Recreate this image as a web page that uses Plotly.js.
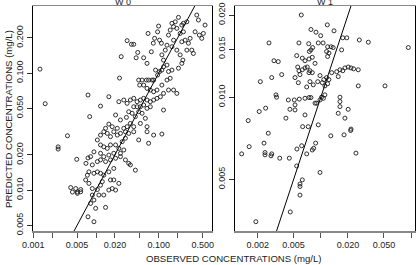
<!DOCTYPE html>
<html><head><meta charset="utf-8">
<script src="https://cdn.plot.ly/plotly-3.0.1.min.js"></script>
<style>html,body{margin:0;padding:0;background:#fff}#chart{width:416px;height:265px}</style>
</head><body><div id="chart"></div>
<script>
// W 0 panel: observed vs predicted (mg/L)
const w0Observed = [0.00128,0.00155,0.00745,0.00793,0.0118,0.0160,0.0237,0.0252,0.0313,0.0367,0.0399,0.0462,0.0436,0.0574,0.0650,0.0675,0.0761,0.0818,0.0858,0.0957,0.0993,0.103,0.110,0.112,0.119,0.127,0.135,0.143,0.152,0.162,0.172,0.183,0.194,0.206,0.219,0.233,0.247,0.263,0.280,0.297,0.316,0.336,0.356,0.379,0.403,0.443,0.484,0.513,0.546,0.428,0.280,0.247,0.233,0.172,0.162,0.194,0.219,0.242,0.233,0.206,0.162,0.152,0.143,0.135,0.119,0.112,0.103,0.0957,0.0889,0.0828,0.0780,0.0689,0.0634,0.0542,0.0479,0.0497,0.0574,0.0650,0.0733,0.0828,0.0936,0.112,0.135,0.143,0.172,0.194,0.119,0.106,0.0936,0.0828,0.0733,0.0650,0.0574,0.0509,0.0452,0.0399,0.0353,0.0313,0.0277,0.0231,0.0399,0.0452,0.0509,0.0574,0.0650,0.0733,0.0479,0.0542,0.0376,0.0332,0.0424,0.0305,0.0245,0.0205,0.0353,0.0399,0.0509,0.0611,0.119,0.0650,0.0313,0.0277,0.0218,0.0181,0.0160,0.0142,
0.00351,0.00249,0.00249,0.00493,0.00395,0.00421,0.00505,0.0057,0.00692,0.00745,0.0082,0.00927,0.0105,0.0118,0.0133,0.0151,0.0170,0.0192,0.0218,0.0245,0.0294,0.0332,0.0399,0.0479,0.0650,0.0689,0.0828,0.112,0.0118,0.0133,0.0151,0.0170,0.0205,0.0231,0.0261,0.0294,0.0277,0.0245,0.0192,0.0160,0.0133,0.0118,0.0105,0.0118,0.0142,0.0170,0.0205,0.0245,0.0294,0.0332,0.0353,0.0424,0.00873,0.00771,0.00927,0.0105,0.0118,0.0133,0.0160,0.0192,0.00728,0.00684,0.00771,0.00873,0.0105,0.0118,0.0126,0.0170,0.0192,0.0205,0.0181,0.0160,0.0133,0.0111,0.00873,0.00927,0.0082,0.00986,0.0142,0.00745,0.00927,0.00505,0.0057,0.00475,0.0231];
const w0Predicted = [0.108,0.0547,0.0649,0.0424,0.0522,0.0627,0.0906,0.138,0.189,0.176,0.176,0.150,0.135,0.135,0.121,0.218,0.152,0.180,0.198,0.225,0.252,0.191,0.180,0.143,0.129,0.157,0.173,0.211,0.233,0.266,0.249,0.274,0.241,0.299,0.218,0.257,0.225,0.191,0.157,0.180,0.198,0.157,0.147,0.225,0.313,0.211,0.198,0.218,0.257,0.284,0.274,0.266,0.185,0.191,0.168,0.157,0.143,0.129,0.121,0.110,0.106,0.0902,0.103,0.117,0.113,0.106,0.103,0.0962,0.106,0.0871,0.0871,0.0871,0.0871,0.0871,0.0871,0.0789,0.0789,0.0740,0.0716,0.0692,0.0716,0.0789,0.0871,0.0716,0.0716,0.0670,0.0670,0.0627,0.0608,0.0588,0.0569,0.0588,0.0608,0.0588,0.0569,0.0608,0.0588,0.0551,0.0588,0.0569,0.0515,0.0515,0.0515,0.0533,0.0499,0.0515,0.0467,0.0453,0.0453,0.0467,0.0424,0.0418,0.0397,0.0438,0.0371,0.0348,0.0371,0.0410,0.0483,0.0348,0.0348,0.0337,0.0337,0.0348,0.0366,0.0337,
0.0291,0.0234,0.0224,0.0183,0.0105,0.00962,0.00962,0.0101,0.0169,0.0188,0.0193,0.0212,0.0268,0.0295,0.0315,0.0305,0.0286,0.0315,0.0295,0.0305,0.0315,0.0305,0.0315,0.0268,0.0315,0.0251,0.0295,0.0301,0.0243,0.0234,0.0227,0.0243,0.0243,0.0227,0.0259,0.0277,0.0220,0.0206,0.0206,0.0199,0.0193,0.0206,0.0175,0.0181,0.0175,0.0181,0.0187,0.0193,0.0181,0.0169,0.0164,0.0148,0.0164,0.0143,0.0139,0.0143,0.0139,0.0134,0.0143,0.0153,0.0134,0.0122,0.0114,0.0103,0.0101,0.0110,0.0118,0.0122,0.0122,0.0100,0.0103,0.0100,0.00906,0.00906,0.00906,0.00821,0.00769,0.00698,0.00711,0.00591,0.00536,0.00937,0.00967,0.0103,0.0114];

// W 1 panel
const w1Observed = [0.00608,0.00267,0.00573,0.00778,0.00885,0.00997,0.0118,0.0140,0.00735,0.00812,0.00778,0.00747,0.00938,0.0106,0.0119,0.0130,0.0137,0.0116,0.0123,0.0119,0.0175,0.0194,0.0170,0.0267,0.0336,0.0931,0.00303,0.00338,0.00541,0.00624,0.00668,0.00740,0.00805,0.00863,0.00555,0.00624,0.00573,0.00668,0.00708,0.00759,0.00740,0.00805,0.00369,0.00286,0.00214,0.00518,0.00588,0.00564,0.00759,0.00698,0.00826,0.00980,0.0108,0.0116,0.0123,0.0119,0.0111,0.0104,0.00925,0.0132,0.0150,0.0163,0.0175,0.0185,0.0201,0.0216,0.0231,0.0156,0.0260,0.0260,0.0514,0.00319,0.00324,0.00208,0.00245,0.00157,0.00437,0.00509,0.00578,0.00668,0.00740,0.00778,0.00518,0.00518,0.00455,0.00863,0.00900,0.00980,0.0102,0.0111,0.0107,0.00668,0.00411,0.00630,0.00726,0.00938,0.0163,0.0163,0.0163,0.0201,0.0156,0.0185,0.0216,
0.00133,0.00161,0.00235,0.00262,0.00241,0.00241,0.00286,0.00281,0.00351,0.00448,0.00544,0.00614,0.00698,0.00805,0.00834,0.00877,0.00541,0.00624,0.00588,0.00588,0.00588,0.00459,0.00191,0.00980,0.0129,0.0181,0.0214,0.0245];
const w1Predicted = [0.0200,0.0158,0.0158,0.0177,0.0173,0.0168,0.0184,0.0175,0.0157,0.0152,0.0149,0.0147,0.0158,0.0158,0.0153,0.0153,0.0152,0.0147,0.0145,0.0141,0.0165,0.0165,0.0149,0.0162,0.0159,0.0152,0.0136,0.0135,0.0142,0.0139,0.0136,0.0138,0.0140,0.0133,0.0129,0.0126,0.0125,0.0128,0.0129,0.0125,0.0123,0.0123,0.0121,0.0118,0.0114,0.0118,0.0121,0.0113,0.0114,0.0109,0.0111,0.0120,0.0116,0.0118,0.0116,0.0112,0.0110,0.0113,0.0114,0.0123,0.0124,0.0126,0.0125,0.0128,0.0129,0.0128,0.0127,0.0119,0.0126,0.0110,0.0110,0.0102,0.0100,0.00886,0.00912,0.00821,0.00977,0.00977,0.00984,0.00991,0.00997,0.00997,0.00937,0.00898,0.00903,0.00951,0.00951,0.00977,0.0100,0.0102,0.00991,0.00861,0.00838,0.00780,0.00780,0.00792,0.0100,0.00964,0.00924,0.00903,0.00873,0.00838,0.00764,
0.00620,0.00659,0.00679,0.00738,0.00627,0.00615,0.00620,0.00610,0.00598,0.00598,0.00646,0.00664,0.00620,0.00641,0.00650,0.00679,0.00560,0.00498,0.00481,0.00471,0.00438,0.00380,0.00350,0.00530,0.00722,0.00728,0.00755,0.00624];

// identity line end points
const identity = [0.0001, 10];

// tick values / labels
const w0XTicks = [0.001,0.002,0.005,0.01,0.02,0.05,0.1,0.2,0.5];
const w0XLabels = ["0.001","","0.005","","0.020","","0.100","","0.500"];
const w0YTicks = [0.005,0.01,0.02,0.05,0.1,0.2];
const w0YLabels = ["0.005","0.010","0.020","0.050","0.100","0.200"];
const w1XTicks = [0.002,0.005,0.01,0.02,0.05,0.1];
const w1XLabels = ["0.002","0.005","","0.020","0.050",""];
const w1YTicks = [0.005,0.01,0.015,0.02];
const w1YLabels = ["0.005","0.010","0.015","0.020"];

const FONT = "Liberation Sans, Arial, Helvetica, sans-serif";
const mk = {symbol:'circle-open', size:4, color:'#1a1a1a', line:{width:0.9, color:'#1a1a1a'}};

const traces = [
  {x:w0Observed, y:w0Predicted, mode:'markers', marker:mk, xaxis:'x', yaxis:'y', hoverinfo:'skip'},
  {x:identity, y:identity, mode:'lines', line:{color:'#000', width:1}, xaxis:'x', yaxis:'y', hoverinfo:'skip'},
  {x:w1Observed, y:w1Predicted, mode:'markers', marker:mk, xaxis:'x2', yaxis:'y2', hoverinfo:'skip'},
  {x:identity, y:identity, mode:'lines', line:{color:'#000', width:1}, xaxis:'x2', yaxis:'y2', hoverinfo:'skip'}
];

const W = 416, H = 265;
const px = v => v / W, py = v => 1 - v / H;
const tickFont = {family:FONT, size:9, color:'#222'};
function xAx(dom, rng, tv, tt) {
  return {domain:dom, type:'log', range:rng, tickmode:'array', tickvals:tv, ticktext:tt,
    ticks:'outside', ticklen:5, tickwidth:1, tickcolor:'#555', showline:true, mirror:true,
    linecolor:'#888', linewidth:1.5, showgrid:false, zeroline:false, tickfont:tickFont, fixedrange:true};
}
function yAx(dom, rng, tv, tt) {
  return {domain:dom, type:'log', range:rng, tickmode:'array', tickvals:tv, ticktext:tt,
    ticks:'outside', ticklen:5, tickwidth:1, tickcolor:'#333', showline:true, mirror:true,
    linecolor:'#000', linewidth:1, showgrid:false, zeroline:false, tickfont:tickFont, tickangle:-90, fixedrange:true};
}
const yDom = [py(231), py(6)];
const layout = {
  width:W, height:H, margin:{l:0,r:0,t:0,b:0}, paper_bgcolor:'#fff', plot_bgcolor:'#fff',
  showlegend:false, font:{family:FONT, size:9, color:'#222'},
  xaxis: xAx([px(33), px(212)], [-3.004, -0.152], w0XTicks, w0XLabels),
  yaxis: yAx(yDom, [-2.350, -0.427], w0YTicks, w0YLabels),
  xaxis2: Object.assign(xAx([px(235), px(415)], [-2.950, -0.957], w1XTicks, w1XLabels), {anchor:'y2'}),
  yaxis2: Object.assign(yAx(yDom, [-2.490, -1.666], w1YTicks, w1YLabels), {anchor:'x2'}),
  annotations:[
    {text:'W 0', x:px(122.5), y:py(8), xref:'paper', yref:'paper', xanchor:'center', yanchor:'bottom', borderpad:0, showarrow:false, font:{family:FONT,size:9,color:'#222'}},
    {text:'W 1', x:px(325), y:py(8), xref:'paper', yref:'paper', xanchor:'center', yanchor:'bottom', borderpad:0, showarrow:false, font:{family:FONT,size:9,color:'#222'}},
    {text:'PREDICTED CONCENTRATIONS (mg/L)', x:px(8), y:py(119), xref:'paper', yref:'paper', xanchor:'center', yanchor:'middle', textangle:-90, showarrow:false, font:{family:FONT,size:9.6,color:'#222'}},
    {text:'OBSERVED CONCENTRATIONS (mg/L)', x:px(234), y:py(258), xref:'paper', yref:'paper', xanchor:'center', yanchor:'middle', showarrow:false, font:{family:FONT,size:9.6,color:'#222'}}
  ]
};
Plotly.newPlot('chart', traces, layout, {staticPlot:true, displayModeBar:false});
</script></body></html>
